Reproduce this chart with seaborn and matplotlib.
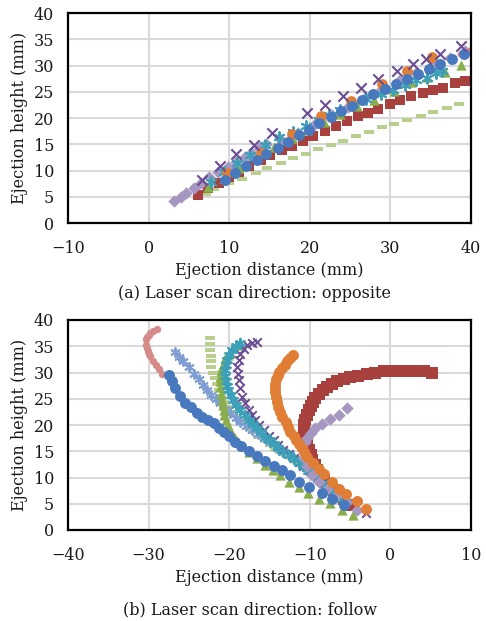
import numpy as np
import pandas as pd
import matplotlib
matplotlib.use("Agg")
import matplotlib.pyplot as plt
import seaborn as sns

# ---------------- (a) opposite ----------------
red_a_x = [6.1, 7.4, 8.7, 10.0, 11.2, 12.5, 13.9, 15.1, 16.5, 17.8, 19.1, 20.4, 21.9, 23.2, 24.6, 26.0, 27.2, 28.5, 30.0, 31.2, 32.6, 34.0, 35.3, 36.5, 38.0, 39.2]
red_a_y = [5.3, 6.6, 7.7, 8.8, 9.8, 10.9, 12.0, 13.0, 13.9, 14.7, 15.7, 16.6, 17.6, 18.5, 19.4, 20.4, 21.0, 21.8, 22.7, 23.4, 24.1, 24.7, 25.3, 25.8, 26.6, 27.1]
orange_a_x = [9.7, 14.0, 17.8, 21.4, 25.1, 28.9, 32.1, 35.2]
orange_a_y = [9.6, 13.3, 16.9, 20.3, 23.2, 26.5, 29.0, 31.6]
green_a_x = [7.4, 9.3, 11.2, 13.4, 15.6, 17.8, 19.7, 21.7, 23.8, 25.8, 28.0, 30.4, 32.6, 34.6, 36.8, 38.7]
green_a_y = [6.8, 8.6, 10.4, 12.6, 14.5, 16.2, 17.8, 19.3, 20.8, 22.2, 23.4, 25.2, 26.9, 27.8, 28.8, 30.1]
purple_a_x = [6.6, 8.8, 10.9, 13.1, 15.3, 19.7, 21.9, 24.1, 26.3, 28.5, 30.8, 32.8, 34.4, 36.1, 38.7]
purple_a_y = [8.2, 10.9, 13.1, 14.9, 17.1, 20.9, 22.5, 24.2, 25.8, 27.4, 29.0, 30.3, 31.2, 32.2, 33.8]
teal_a_x = [7.7, 9.3, 11.0, 12.6, 14.5, 16.2, 17.9, 19.5, 21.1, 22.4, 23.8, 25.4, 27.0, 28.8, 30.3, 31.8, 33.2, 34.5, 35.7, 36.4]
teal_a_y = [7.9, 9.7, 11.4, 13.0, 14.8, 16.3, 17.4, 18.5, 19.7, 20.6, 21.5, 22.6, 23.6, 24.6, 25.4, 26.3, 27.2, 27.7, 28.5, 29.0]
lav_a_x = [3.1, 4.0, 4.7, 5.6, 6.5, 7.5, 8.6, 9.8, 10.8, 11.9, 12.7, 13.7, 14.6, 16.4, 18.5, 20.6, 22.7, 24.8, 26.9, 29.0, 31.1, 33.2, 35.3, 37.4, 39.3]
lav_a_y = [4.1, 5.0, 5.8, 6.6, 7.6, 8.7, 9.7, 10.7, 11.6, 12.5, 13.3, 14.2, 15.0, 15.9, 17.2, 18.8, 20.5, 22.1, 23.8, 25.5, 27.0, 28.6, 30.0, 31.5, 32.7]
lgreen_a_x = [7.1, 8.1, 10.0, 11.6, 13.3, 14.7, 16.4, 17.9, 19.5, 21.0, 22.6, 24.1, 25.7, 27.3, 28.9, 30.5, 32.1, 33.8, 35.3, 37.0, 38.5]
lgreen_a_y = [5.5, 6.4, 7.6, 8.3, 9.5, 10.4, 11.4, 12.3, 13.1, 14.1, 14.9, 15.7, 16.6, 17.4, 18.2, 18.9, 19.7, 20.4, 21.2, 22.0, 22.7]
blue_a_x = [9.5, 10.7, 12.1, 13.5, 14.6, 16.0, 17.3, 18.6, 19.9, 21.2, 22.6, 23.9, 25.2, 26.5, 27.9, 29.3, 30.7, 32.0, 33.4, 34.8, 36.2, 37.6, 39.1]
blue_a_y = [8.2, 9.5, 10.9, 12.0, 13.1, 14.2, 15.5, 16.8, 17.8, 19.1, 20.1, 21.3, 22.3, 23.4, 24.5, 25.5, 26.4, 27.4, 28.4, 29.4, 30.3, 31.2, 32.2]
pink_a_x = [38.6, 39.8]
pink_a_y = [32.2, 32.9]

# ---------------- (b) follow ----------------
red_b_x = [5.2, 4.2, 3.3, 2.2, 1.2, 0.2, -0.8, -1.9, -2.9, -4.0, -5.0, -5.8, -6.6, -7.3, -7.9, -8.4, -8.9, -9.3, -9.6, -9.9,
           -10.1, -10.4, -10.6, -10.7, -10.7, -10.6, -10.6, -10.3, -10.1, -9.9, -9.7, -9.4, -9.1, -8.7, -8.3, -7.7, -7.0, -6.4, -5.8, -4.8]
red_b_y = [30.0, 30.2, 30.3, 30.3, 30.3, 30.3, 30.2, 30.0, 29.7, 29.4, 29.1, 28.7, 28.3, 27.8, 27.3, 26.7, 26.0, 25.2, 24.4, 23.7,
           22.9, 21.9, 21.0, 20.0, 19.0, 18.0, 17.1, 16.1, 15.2, 14.2, 13.3, 12.3, 11.4, 10.4, 9.5, 8.5, 7.6, 6.8, 6.0, 4.8]
orange_b_x = [-12.1, -12.4, -12.8, -13.1, -13.5, -13.8, -14.0, -14.2, -14.3, -14.3, -14.3, -14.2, -14.1, -13.9, -13.7, -13.4, -13.0,
              -12.7, -12.4, -12.0, -11.7, -11.3, -11.0, -10.7, -10.4, -9.6, -8.9, -8.2, -7.2, -6.4, -5.5, -4.1, -3.0]
orange_b_y = [33.3, 32.7, 32.1, 31.4, 30.8, 30.1, 29.5, 28.7, 27.9, 27.1, 26.3, 25.3, 24.4, 23.4, 22.5, 21.5, 20.6,
              19.6, 18.7, 17.9, 17.1, 16.3, 15.6, 14.8, 14.0, 12.7, 11.7, 10.7, 9.1, 7.9, 6.8, 5.5, 4.0]
green_b_x = [-18.8, -19.4, -19.9, -20.2, -20.5, -20.7, -20.9, -21.0, -21.1, -21.1, -21.1, -21.0, -20.9, -20.8, -20.7, -20.6, -20.4,
             -20.2, -19.9, -19.6, -19.3, -18.9, -18.4, -17.5, -16.6, -15.5, -14.6, -13.7, -12.6, -11.4, -10.2, -8.9, -7.5, -6.0, -4.6]
green_b_y = [35.2, 34.6, 34.0, 33.4, 32.7, 31.9, 31.1, 30.2, 29.2, 28.3, 27.3, 26.0, 24.8, 23.8, 22.9, 22.0, 21.0,
             20.0, 19.0, 18.2, 17.5, 16.7, 16.0, 14.8, 13.7, 12.4, 11.4, 10.5, 9.2, 8.1, 7.1, 6.0, 5.1, 3.8, 2.9]
teal_b_x = [-18.6, -19.2, -19.7, -20.0, -20.3, -20.4, -20.5, -20.5, -20.4, -20.3, -20.1, -19.8, -19.5, -19.1, -18.6, -18.1, -17.6,
            -17.1, -16.6, -16.0, -15.5, -15.0, -14.5, -13.9, -13.3, -12.6, -12.0, -11.4, -10.8, -10.2, -9.6, -9.0, -8.4, -7.8, -7.3, -6.7, -6.2]
teal_b_y = [35.6, 35.0, 34.3, 33.4, 32.4, 31.5, 30.5, 29.4, 28.3, 27.5, 26.7, 25.7, 24.8, 23.8, 22.9, 21.9, 21.0,
            20.2, 19.4, 18.6, 17.8, 17.1, 16.4, 15.6, 14.9, 14.2, 13.5, 12.8, 12.1, 11.3, 10.6, 9.8, 9.0, 8.2, 7.5, 6.7, 6.0]
purple_b_x = [-16.6, -17.2, -17.8, -18.2, -18.6, -18.8, -19.0, -18.9, -18.8, -18.6, -18.4, -18.0, -17.6, -17.2, -16.8, -16.3, -15.7,
              -15.1, -14.5, -13.9, -13.3, -12.6, -12.0, -11.4, -10.8, -10.1, -9.5, -8.8, -8.2, -7.5, -6.9, -6.2, -5.5, -4.8, -4.2, -3.6, -3.0]
purple_b_y = [35.9, 35.6, 35.2, 34.5, 33.6, 32.4, 31.1, 29.8, 28.6, 27.0, 25.4, 24.1, 22.9, 21.9, 21.0, 20.0, 19.0,
              18.0, 17.1, 16.1, 15.2, 14.4, 13.7, 12.9, 12.2, 11.4, 10.6, 9.8, 9.0, 8.2, 7.5, 6.7, 6.0, 5.3, 4.6, 3.9, 3.2]
lgreen_b_x = [-22.4, -22.4, -22.35, -22.3, -22.25, -22.2, -22.0, -21.8, -21.5, -21.3, -21.0, -20.7, -20.2, -19.7, -19.1, -18.6,
              -18.1, -17.6, -17.0, -16.4, -15.6, -14.9, -14.3, -13.7, -12.9, -12.2, -11.6, -11.0, -10.4, -9.8]
lgreen_b_y = [36.5, 35.4, 34.3, 33.2, 32.1, 31.0, 30.0, 28.9, 27.8, 26.7, 25.5, 24.4, 23.4, 22.5, 21.7, 21.0,
              20.2, 19.4, 18.6, 17.8, 17.0, 16.2, 15.5, 14.9, 14.3, 13.7, 13.0, 12.4, 11.5, 10.6]
lblue_b_x = [-26.7, -26.2, -25.7, -25.0, -24.4, -23.8, -23.2, -22.7, -22.2, -21.6, -21.1, -20.5, -19.9, -19.2, -18.6, -17.9,
             -17.2, -16.4, -15.7, -14.9, -14.1, -13.3, -12.6, -11.9, -11.2, -10.5, -9.8]
lblue_b_y = [34.0, 33.0, 32.1, 31.0, 29.8, 28.7, 27.6, 26.6, 25.7, 24.9, 24.1, 23.1, 22.2, 21.4, 20.6, 19.8,
             19.0, 18.2, 17.5, 16.7, 15.9, 15.1, 14.3, 13.5, 12.7, 11.9, 11.2]
pink_b_x = [-29.0, -29.5, -29.8, -30.0, -30.2, -30.3, -30.3, -30.2, -30.1, -29.9, -29.8, -29.5, -29.1, -28.7, -28.3]
pink_b_y = [38.2, 37.9, 37.6, 37.2, 36.8, 36.3, 35.2, 34.6, 34.1, 33.6, 33.1, 32.2, 31.4, 30.6, 29.8]
lav_b_x = [-5.4, -6.4, -7.5, -8.5, -9.3, -9.9, -10.3, -10.6, -10.8, -10.7, -10.3, -9.7, -8.9, -7.9, -6.6, -5.4, -4.1]
lav_b_y = [23.2, 21.9, 21.1, 20.2, 19.4, 18.4, 17.6, 16.8, 15.2, 13.7, 12.1, 10.5, 9.2, 7.9, 6.7, 5.4, 3.8]
blue_b_x = [-27.5, -27.1, -26.7, -26.1, -25.5, -24.8, -24.0, -23.4, -22.6, -21.9, -21.3, -20.7, -20.0, -19.3, -18.5, -17.5,
            -16.5, -15.5, -14.5, -13.5, -12.5, -11.3, -10.1, -8.5, -7.2, -5.8]
blue_b_y = [29.5, 28.3, 27.0, 25.5, 24.2, 23.4, 22.2, 21.5, 21.0, 20.3, 19.4, 18.7, 17.9, 16.8, 16.0, 15.1,
            14.1, 13.2, 12.2, 11.4, 10.4, 9.1, 8.2, 7.0, 6.0, 4.8]

xticks_a = [-10, 0, 10, 20, 30, 40]
xticks_b = [-40, -30, -20, -10, 0, 10]
yticks = [0, 5, 10, 15, 20, 25, 30, 35, 40]

C_RED = "#A8403D"
C_ORANGE = "#E07E35"
C_GREEN = "#8AAE4B"
C_PURPLE = "#6A4C93"
C_TEAL = "#3CA0B8"
C_LAV = "#A597C2"
C_LGREEN = "#B9CF8E"
C_BLUE = "#4878BE"
C_PINK = "#D58B89"
C_LBLUE = "#7F9ED3"

sns.set_theme(style="white")
plt.rcParams["font.family"] = ["DejaVu Serif"]
plt.rcParams["axes.unicode_minus"] = True

DASH = [(-1, -0.32), (1, -0.32), (1, 0.32), (-1, 0.32), (-1, -0.32)]
STAR = (6, 2, 0)
TXT = "#1a1a1a"

fig = plt.figure(figsize=(4.86, 6.21), dpi=100)
ax1 = fig.add_axes([68 / 486, 1 - 223 / 621, 403 / 486, 210 / 621])
ax2 = fig.add_axes([68 / 486, 1 - 530 / 621, 403 / 486, 210 / 621])


def draw(ax, x, y, marker, color, s, lw=0.0, z=3, filled=True):
    df = pd.DataFrame({"x": x, "y": y})
    if filled:
        sns.scatterplot(data=df, x="x", y="y", ax=ax, marker=marker, color=color, s=s,
                        linewidth=lw, edgecolor=color, zorder=z, legend=False)
    else:
        sns.scatterplot(data=df, x="x", y="y", ax=ax, marker=marker, color=color, s=s,
                        linewidth=lw, edgecolor=color, facecolor=color, zorder=z, legend=False)


# (a)
draw(ax1, lgreen_a_x, lgreen_a_y, DASH, C_LGREEN, 60, z=3)
draw(ax1, red_a_x, red_a_y, "s", C_RED, 52, z=4)
draw(ax1, lav_a_x, lav_a_y, "D", C_LAV, 40, z=4)
draw(ax1, pink_a_x, pink_a_y, "o", C_PINK, 18, z=4)
draw(ax1, green_a_x, green_a_y, "^", C_GREEN, 55, z=5)
draw(ax1, teal_a_x, teal_a_y, STAR, C_TEAL, 60, lw=1.4, z=5, filled=False)
draw(ax1, orange_a_x, orange_a_y, "o", C_ORANGE, 60, z=5)
draw(ax1, blue_a_x, blue_a_y, "o", C_BLUE, 62, z=6)
draw(ax1, purple_a_x, purple_a_y, "x", C_PURPLE, 55, lw=1.5, z=7, filled=False)

# (b)
draw(ax2, red_b_x, red_b_y, "s", C_RED, 75, z=3)
draw(ax2, lgreen_b_x, lgreen_b_y, DASH, C_LGREEN, 60, z=3)
draw(ax2, lblue_b_x, lblue_b_y, STAR, C_LBLUE, 40, lw=1.4, z=3, filled=False)
draw(ax2, pink_b_x, pink_b_y, "o", C_PINK, 28, z=3)
draw(ax2, green_b_x, green_b_y, "^", C_GREEN, 55, z=4)
draw(ax2, purple_b_x, purple_b_y, "x", C_PURPLE, 38, lw=1.4, z=4, filled=False)
draw(ax2, teal_b_x, teal_b_y, STAR, C_TEAL, 48, lw=1.4, z=5, filled=False)
draw(ax2, lav_b_x, lav_b_y, "D", C_LAV, 40, z=5)
draw(ax2, orange_b_x, orange_b_y, "o", C_ORANGE, 62, z=6)
draw(ax2, blue_b_x, blue_b_y, "o", C_BLUE, 62, z=6)

for ax, xt in ((ax1, xticks_a), (ax2, xticks_b)):
    ax.set_xlim(xt[0], xt[-1])
    ax.set_ylim(0, 40)
    ax.set_xticks(xt)
    ax.set_yticks(yticks)
    ax.grid(True, color="#D9D9D9", linewidth=1.5)
    ax.set_axisbelow(True)
    for sp in ax.spines.values():
        sp.set_color("black")
        sp.set_linewidth(1.6)
        sp.set_zorder(10)
    ax.tick_params(axis="y", length=0, labelsize=11.5, pad=10, colors=TXT)
    ax.tick_params(axis="x", length=0, labelsize=11.5, pad=12, colors=TXT)
    ax.set_xlabel("Ejection distance (mm)", fontsize=11.5, labelpad=4, color=TXT)
    ax.set_ylabel("Ejection height (mm)", fontsize=11.5, labelpad=4, color=TXT)

fig.text(254 / 486, 1 - 294 / 621, "(a) Laser scan direction: opposite", ha="center", va="center",
         fontsize=11.5, color=TXT)
fig.text(250 / 486, 1 - 610 / 621, "(b) Laser scan direction: follow", ha="center", va="center",
         fontsize=11.5, color=TXT)

fig.savefig("out.png", dpi=100)
